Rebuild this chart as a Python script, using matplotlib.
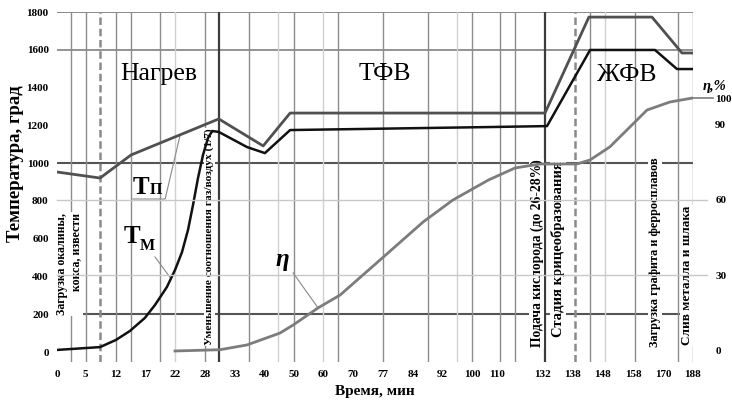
import numpy as np
import matplotlib
matplotlib.use("Agg")
import matplotlib.pyplot as plt
from matplotlib import transforms

plt.rcParams['font.family'] = ['Liberation Serif', 'DejaVu Serif']

# ---- axis tick labels (minutes) and their layout positions on the non-uniform time axis
x_ticks = [0, 5, 12, 17, 22, 28, 33, 40, 50, 60, 70, 77, 84, 92, 100, 110, 132, 138, 148, 158, 170, 188]
x_tick_pos = [57, 85, 116, 146, 175, 205, 235, 264, 294, 323, 353, 383, 413, 442, 472, 497, 543, 573, 603, 633, 663, 693]
y_ticks = list(range(0, 1801, 200))
eta_ticks = [0, 30, 60, 90, 100]

# ---- series
tp_t = [0, 8.4, 14.5, 30.3, 39.8, 48.7, 132.4, 143.3, 165.6, 181.4, 188]
tp_v = [953, 921, 1043, 1234, 1091, 1265, 1265, 1773, 1773, 1583, 1583]

tm_t = [0, 8.4, 12, 14.3, 16.8, 18.55, 20.6, 22, 23.4, 24.6, 25.6, 26.6, 27.6, 28.5, 29.2, 30.3,
        35.9, 40.3, 48.7, 107.2, 132.8, 143.7, 166.8, 178.4, 188]
tm_v = [11, 26, 64, 111, 180, 249, 344, 434, 529, 646, 778, 921, 1043, 1133, 1170, 1165,
        1085, 1053, 1175, 1191, 1196, 1599, 1599, 1498, 1498]

eta_t = [22, 30.5, 35.9, 45.3, 49.7, 58.3, 65.7, 76.3, 86.8, 94.9, 106.7, 118.6, 130.6, 139.3, 143.7, 150.3, 157, 163.6, 174.2, 188]
eta_v = [0, 0.5, 2.4, 7.1, 10.3, 17.1, 22.2, 36.1, 51.2, 59.9, 67.9, 72.6, 74.2, 74.2, 75.8, 81, 88.9, 95.6, 98.8, 100.4]

# ---- vertical grid lines (minutes)
v_normal = [2.5, 5.2, 12, 14.5, 19.4, 28, 36.4, 50, 65, 77, 88, 100, 111.4, 118.6, 143.7, 158.8, 179, 188]
v_light = [22, 44.7, 60, 96, 148.7]
v_dark = [30.3, 132.4]
v_dashed = [8.4, 138.6]

events = [
    ("Загрузка окалины,\nкокса, извести", 2.2, 736, 'top', 8.6),
    ("Уменьшение соотношения газ/воздух (1/7)", 28.7, 37, 'bottom', 8.2),
    ("Подача кислорода (до 26-28%)", 129.1, 26, 'bottom', 9.8),
    ("Стадия крицеобразования", 135.0, 79, 'bottom', 10.5),
    ("Загрузка графита и ферросплавов", 166.8, 26, 'bottom', 8.8),
    ("Слив металла и шлака", 184.4, 37, 'bottom', 9.5),
]

def fwd(x):
    return np.interp(x, x_ticks, x_tick_pos)

def inv(x):
    return np.interp(x, x_tick_pos, x_ticks)

fig = plt.figure(figsize=(7.32, 4.0), dpi=100)
ax = fig.add_axes([57/732, 1-362/400, (693-57)/732, 350/400])
ax.set_xscale('function', functions=(fwd, inv))
ax.set_xlim(0, 188)
ax.set_ylim(-52.9, 1800)
ax2 = ax.twinx()
ax2.set_ylim(-4.37, 134.5)

for a in (ax, ax2):
    for s in a.spines.values():
        s.set_visible(False)

# horizontal grid
ax.axhline(1800, color='#808080', lw=1.3, zorder=1)
ax.axhline(1600, color='#808080', lw=1.2, zorder=1)
ax.axhline(1000, color='#555555', lw=1.5, zorder=1)
ax.axhline(200, color='#555555', lw=1.5, zorder=1)
trans2 = transforms.blended_transform_factory(ax2.transAxes, ax2.transData)
for e in (30, 60):
    ax2.plot([0, 1.022], [e, e], transform=trans2, color='#c8c8c8', lw=1.0, clip_on=False, zorder=1)

# vertical grid
for v in v_normal:
    ax.axvline(v, color='#8c8c8c', lw=1.0, zorder=1)
for v in v_light:
    ax.axvline(v, color='#d0d0d0', lw=1.0, zorder=1)
for v in v_dark:
    ax.axvline(v, color='#3c3c3c', lw=1.6, zorder=1)
for v in v_dashed:
    ax.axvline(v, color='#8a8a8a', lw=1.8, ls=(0, (3, 1.5)), zorder=1)

# event labels
for txt, xt, yt, va, fs in events:
    ax.text(xt, yt, txt, rotation=90, ha='center', va=va, fontsize=fs,
            fontweight='bold', multialignment='right', zorder=2,
            bbox=dict(facecolor='white', edgecolor='none', pad=0.6))

# curves
ax.plot(tp_t, tp_v, color='#505050', lw=2.0, zorder=4)
ax.plot(tm_t, tm_v, color='#111111', lw=1.8, zorder=4)
ax2.plot(eta_t, eta_v, color='#7c7c7c', lw=2.0, zorder=4)
ax2.plot([1, 1.032], [100.4, 100.4], transform=trans2, color='#7c7c7c', lw=1.2, clip_on=False)

# stage titles
ax.text(19.2, 1440, "Нагрев", fontsize=18.5, ha='center', va='baseline')
ax.text(77.5, 1440, "ТФВ", fontsize=18.5, ha='center', va='baseline')
ax.text(156.2, 1435, "ЖФВ", fontsize=18.5, ha='center', va='baseline')

# curve labels
ax.text(14.8, 836, "T", fontsize=18, fontweight='bold', ha='left', va='baseline')
ax.text(17.7, 836, "П", fontsize=11.5, fontweight='bold', ha='left', va='baseline')
ax.plot([14.8, 20.3, 23], [810, 810, np.interp(23, tp_t, tp_v)], color='#888888', lw=0.8, zorder=3)

ax.text(13.2, 577, "T", fontsize=18, fontweight='bold', ha='left', va='baseline')
ax.text(16.0, 540, "М", fontsize=11.5, fontweight='bold', ha='left', va='baseline')
ax.plot([18.55, 21.3], [503, np.interp(21.3, tm_t, tm_v)], color='#888888', lw=0.8, zorder=3)

ax2.text(43.7, 33.7, "η", fontsize=18, fontweight='bold', fontstyle='italic', ha='left', va='baseline')
ax2.plot([49.7, 58.3], [31, np.interp(58.3, eta_t, eta_v)], color='#888888', lw=0.8, zorder=3)
ax2.text(1.0157, 0.777, "η,%", transform=ax2.transAxes, fontsize=10.5, fontweight='bold',
         fontstyle='italic', ha='left', va='baseline', clip_on=False)

# ticks
ax.set_xticks(x_ticks)
ax.set_xticklabels([str(t) for t in x_ticks], fontsize=8, fontweight='bold')
ax.set_yticks(y_ticks)
ax.set_yticklabels([str(t) for t in y_ticks], fontsize=8, fontweight='bold')
ax.tick_params(axis='both', length=0, pad=6)
ax2.set_yticks(eta_ticks)
ax2.set_yticklabels([str(t) for t in eta_ticks], fontsize=8, fontweight='bold')
ax2.tick_params(axis='y', length=0, pad=16)

ax.set_xlabel("Время, мин", fontsize=11, fontweight='bold', labelpad=4)
fig.text(16/732, 1-164/400, "Температура, град", rotation=90, ha='center', va='center',
         fontsize=13.5, fontweight='bold')

fig.savefig("out.png", dpi=100)
